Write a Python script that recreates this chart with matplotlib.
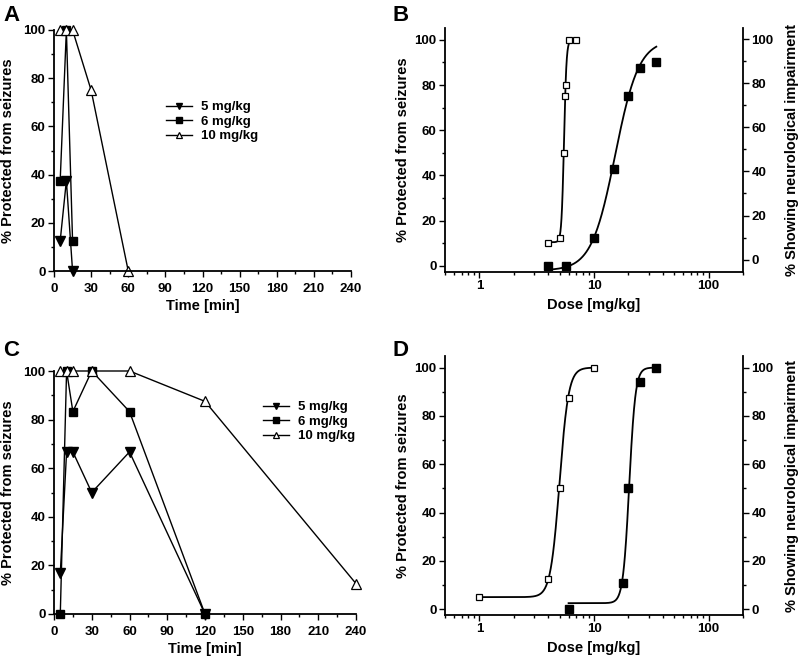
import matplotlib
matplotlib.use("Agg")
import matplotlib.pyplot as plt
import numpy as np
from matplotlib.ticker import MultipleLocator, LogLocator, NullFormatter

plt.rcParams['font.family'] = ['Liberation Sans', 'DejaVu Sans']
plt.rcParams['font.weight'] = 'bold'
plt.rcParams['axes.labelweight'] = 'bold'

# ---- data ----
doses_labels = ['5 mg/kg', '6 mg/kg', '10 mg/kg']

# panel A: time course
a_time_5 = [5, 10, 15]
a_prot_5 = [12.5, 37.5, 0]
a_time_6 = [5, 10, 15]
a_prot_6 = [37.5, 100, 12.5]
a_time_10 = [5, 10, 15, 30, 60]
a_prot_10 = [100, 100, 100, 75, 0]

# panel C: time course
c_time_5 = [5, 10, 15, 30, 60, 120]
c_prot_5 = [16.7, 66.7, 66.7, 50, 66.7, 0]
c_time_6 = [5, 10, 15, 30, 60, 120]
c_prot_6 = [0, 100, 83.3, 100, 83.3, 0]
c_time_10 = [5, 10, 15, 30, 60, 120, 240]
c_prot_10 = [100, 100, 100, 100, 100, 87.5, 12.5]

# panel B: dose response (open = protection, filled = impairment)
b_dose_prot = [4, 5, 5.5, 5.6, 5.7, 6, 7]
b_prot = [10, 12.5, 50, 75, 80, 100, 100]
b_dose_tox = [4, 5.7, 10, 15, 20, 25, 35]
b_tox = [0, 0, 12.5, 42.9, 75, 87.5, 90]

# panel D: dose response
d_dose_prot = [1, 4, 5, 6, 10]
d_prot = [5, 12.5, 50, 87.5, 100]
d_dose_tox = [6, 18, 20, 25, 35]
d_tox = [0, 11, 50, 94, 100]

# Hill fit parameters: (bottom, top, ED50, slope, dose range)
b_fit_prot = (10.5, 100, 5.47, 40, 4, 6.4)
b_fit_tox = (-2, 100, 15.3, 4.2, 4, 35)
d_fit_prot = (5, 100, 5.0, 11, 1, 10)
d_fit_tox = (2.5, 100, 20.3, 16, 6, 35)


def hill(params):
    bottom, top, ed50, n, lo, hi = params
    x = np.logspace(np.log10(lo), np.log10(hi), 300)
    return x, bottom + (top - bottom) / (1 + (ed50 / x) ** n)


fig = plt.figure(figsize=(7.98, 6.58), dpi=100)
W, H = 798, 658


def axes_px(left, right, bottom, top):
    return fig.add_axes([left / W, 1 - bottom / H, (right - left) / W, (bottom - top) / H])


tick_kw = dict(direction='out', width=1.0, labelsize=9.5, pad=2)


def style_time(ax):
    ax.set_xlim(0, 240)
    ax.set_ylim(0, 100)
    for s in ['top', 'right']:
        ax.spines[s].set_visible(False)
    for s in ['left', 'bottom']:
        ax.spines[s].set_linewidth(1.3)
    ax.xaxis.set_major_locator(MultipleLocator(30))
    ax.xaxis.set_minor_locator(MultipleLocator(15))
    ax.yaxis.set_major_locator(MultipleLocator(20))
    ax.yaxis.set_minor_locator(MultipleLocator(10))
    ax.tick_params(which='major', length=4, **tick_kw)
    ax.tick_params(axis='x', which='major', pad=4.5)
    ax.tick_params(which='minor', length=2.5, direction='out', width=1.0)
    ax.set_xlabel('Time [min]', fontsize=10.5, labelpad=3)
    ax.set_ylabel('% Protected from seizures', fontsize=10.5, labelpad=6)


def plot_time(ax, t5, p5, t6, p6, t10, p10):
    ax.plot(t5, p5, '-', color='black', lw=1.0, marker='v', ms=6.5,
            mfc='black', mec='black', clip_on=False, label=doses_labels[0])
    ax.plot(t6, p6, '-', color='black', lw=1.0, marker='s', ms=5.5,
            mfc='black', mec='black', clip_on=False, label=doses_labels[1])
    ax.plot(t10, p10, '-', color='black', lw=1.0, marker='^', ms=6.5,
            mfc='white', mec='black', mew=0.9, clip_on=False, label=doses_labels[2])


def add_legend(ax, xp, yp):
    ax.legend(loc='upper left', bbox_to_anchor=(xp / W, 1 - yp / H), bbox_transform=fig.transFigure,
              frameon=False, fontsize=9.5, handlelength=2.0, handletextpad=0.65,
              labelspacing=0.17, borderpad=0, borderaxespad=0, markerscale=0.75)


def style_dose(ax, ylim_left, ylim_right):
    ax.set_xscale('log')
    ax.set_xlim(0.5, 200)
    ax.set_ylim(*ylim_left)
    ax.spines['top'].set_visible(False)
    ax.spines['right'].set_visible(False)
    for s in ['left', 'bottom']:
        ax.spines[s].set_linewidth(1.3)
    ax.xaxis.set_major_locator(LogLocator(base=10))
    ax.xaxis.set_minor_locator(LogLocator(base=10, subs=np.arange(2, 10)))
    ax.xaxis.set_minor_formatter(NullFormatter())
    ax.set_xticks([1, 10, 100])
    ax.set_xticklabels(['1', '10', '100'])
    ax.yaxis.set_major_locator(MultipleLocator(20))
    ax.yaxis.set_minor_locator(MultipleLocator(10))
    ax.tick_params(which='major', length=4, **tick_kw)
    ax.tick_params(which='minor', length=2.5, direction='out', width=1.0)
    ax.set_xlabel('Dose [mg/kg]', fontsize=10.5, labelpad=4)
    ax.set_ylabel('% Protected from seizures', fontsize=10.5, labelpad=3)
    ax2 = ax.twinx()
    ax2.set_ylim(*ylim_right)
    ax2.spines['top'].set_visible(False)
    ax2.spines['left'].set_visible(False)
    ax2.spines['bottom'].set_visible(False)
    ax2.spines['right'].set_linewidth(1.3)
    ax2.yaxis.set_major_locator(MultipleLocator(20))
    ax2.yaxis.set_minor_locator(MultipleLocator(10))
    ax2.set_yticks([0, 20, 40, 60, 80, 100])
    ax2.tick_params(which='major', length=4, **tick_kw)
    ax2.tick_params(which='minor', length=2.5, direction='out', width=1.0)
    ax2.set_ylabel('% Showing neurological impairment', fontsize=10.5, labelpad=8)
    return ax2


def plot_dose(ax, dp, p, dt, t, fit_p, fit_t):
    x, y = hill(fit_p)
    ax.plot(x, y, color='black', lw=1.3)
    x, y = hill(fit_t)
    ax.plot(x, y, color='black', lw=1.3)
    ax.plot(dp, p, 's', ms=5, mfc='white', mec='black', mew=0.9, clip_on=False, zorder=3)
    ax.plot(dt, t, 's', ms=6, mfc='black', mec='black', clip_on=False, zorder=3)


# Panel A
axA = axes_px(54, 351, 271, 30)
style_time(axA)
plot_time(axA, a_time_5, a_prot_5, a_time_6, a_prot_6, a_time_10, a_prot_10)
add_legend(axA, 166, 101)

# Panel C
axC = axes_px(54, 356, 614, 371)
style_time(axC)
plot_time(axC, c_time_5, c_prot_5, c_time_6, c_prot_6, c_time_10, c_prot_10)
add_legend(axC, 263, 401)

# Panel B
axB = axes_px(445, 743, 272, 28)
style_dose(axB, (-2.66, 105.2), (-5.6, 105))
plot_dose(axB, b_dose_prot, b_prot, b_dose_tox, b_tox, b_fit_prot, b_fit_tox)

# Panel D
axD = axes_px(445, 743, 615, 356)
style_dose(axD, (-2.4, 104.8), (-2.4, 104.8))
plot_dose(axD, d_dose_prot, d_prot, d_dose_tox, d_tox, d_fit_prot, d_fit_tox)

# panel letters
for letter, xp, yp in [('A', 3, 5), ('B', 393, 5), ('C', 3, 340), ('D', 393, 340)]:
    fig.text(xp / W, 1 - yp / H, letter, fontsize=16, fontweight='bold', va='top', ha='left')

fig.savefig('out.png', dpi=100)
